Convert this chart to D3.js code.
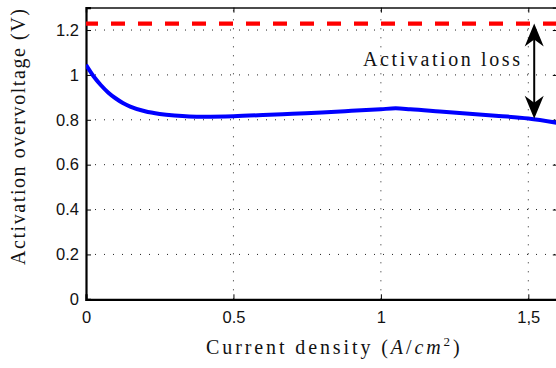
<!DOCTYPE html>
<html>
<head>
<meta charset="utf-8">
<script src="https://cdn.jsdelivr.net/npm/d3@7"></script>
<style>
  html, body { margin: 0; padding: 0; background: #fff; }
  svg { display: block; }
</style>
</head>
<body>
<svg id="chart" width="556" height="368"></svg>
<script>
// Activation overvoltage versus current density
const currentDensity = [0, 0.025, 0.05, 0.075, 0.1, 0.125, 0.15, 0.2, 0.25, 0.3, 0.35, 0.4, 0.5, 0.6, 0.7, 0.8, 0.9, 1.0, 1.05, 1.1, 1.2, 1.3, 1.4, 1.5, 1.6];
const overvoltage    = [1.045, 0.995, 0.955, 0.922, 0.896, 0.875, 0.859, 0.838, 0.826, 0.819, 0.815, 0.814, 0.816, 0.821, 0.827, 0.833, 0.840, 0.847, 0.851, 0.847, 0.837, 0.827, 0.817, 0.806, 0.786];
const reversibleVoltage = 1.229;
const arrowAt = 1.52;            // current density where the loss arrow is drawn
const arrowBottom = 0.805;       // overvoltage at the arrow position

const xTicks = [0, 0.5, 1, 1.5];
const xTickLabels = ["0", "0.5", "1", "1,5"];
const yTicks = [0, 0.2, 0.4, 0.6, 0.8, 1.0, 1.2];
const yTickLabels = ["0", "0.2", "0.4", "0.6", "0.8", "1", "1.2"];

const svg = d3.select("#chart");
const plotLeft = 86, plotRight = 557.8, plotTop = 7.6, plotBottom = 299.3;

const x = d3.scaleLinear().domain([0, 1.6]).range([plotLeft, plotRight]);
const y = d3.scaleLinear().domain([0, 1.3]).range([plotBottom, plotTop]);

const serif = "'Liberation Serif', 'DejaVu Serif', serif";
const sans = "'Liberation Sans', Arial, sans-serif";

// dotted grid
const grid = svg.append("g").attr("stroke", "#222").attr("stroke-width", 1).attr("stroke-dasharray", "1,8");
grid.selectAll(".gx").data(xTicks.slice(1)).join("line")
  .attr("x1", d => x(d)).attr("x2", d => x(d)).attr("y1", plotBottom).attr("y2", plotTop);
grid.selectAll(".gy").data(yTicks.slice(1)).join("line")
  .attr("y1", d => y(d)).attr("y2", d => y(d)).attr("x1", plotLeft).attr("x2", plotRight);

// axes with inward ticks
const xAxis = d3.axisBottom(x).tickValues(xTicks).tickSize(-5).tickPadding(12)
  .tickFormat((d, i) => xTickLabels[i]);
const gx = svg.append("g").attr("transform", `translate(0,${plotBottom})`).call(xAxis);
gx.select(".domain").attr("stroke-width", 2.2).attr("stroke", "#000");
gx.selectAll(".tick line").attr("stroke", "#000");
gx.selectAll(".tick text").attr("font-family", sans).attr("font-size", 16.5).attr("fill", "#111");

const xTop = d3.axisTop(x).tickValues(xTicks).tickSize(-5).tickFormat("");
const gt = svg.append("g").attr("transform", `translate(0,${plotTop})`).call(xTop);
gt.select(".domain").attr("stroke-width", 1.5).attr("stroke", "#111");

const yAxis = d3.axisLeft(y).tickValues(yTicks).tickSize(-5).tickPadding(7)
  .tickFormat((d, i) => yTickLabels[i]);
const gy = svg.append("g").attr("transform", `translate(${plotLeft},0)`).call(yAxis);
gy.select(".domain").attr("stroke-width", 2.2).attr("stroke", "#000");
gy.selectAll(".tick line").attr("stroke", "#000");
gy.selectAll(".tick text").attr("font-family", sans).attr("font-size", 16.5).attr("fill", "#111");

const yRight = d3.axisRight(y).tickValues(yTicks).tickSize(-5).tickFormat("");
svg.append("g").attr("transform", `translate(${plotRight},0)`).call(yRight);

// clip region for the plotted data
svg.append("clipPath").attr("id", "plotArea")
  .append("rect").attr("x", plotLeft).attr("y", plotTop)
  .attr("width", plotRight - plotLeft).attr("height", plotBottom - plotTop);

// reversible voltage (dashed red)
svg.append("line")
  .attr("clip-path", "url(#plotArea)")
  .attr("x1", x(0)).attr("x2", x(1.6))
  .attr("y1", y(reversibleVoltage)).attr("y2", y(reversibleVoltage))
  .attr("stroke", "#ff0000").attr("stroke-width", 4.2)
  .attr("stroke-dasharray", "14,13").attr("stroke-dashoffset", 2);

// overvoltage curve
const line = d3.line().x((d, i) => x(currentDensity[i])).y(d => y(d)).curve(d3.curveMonotoneX);
svg.append("path")
  .attr("clip-path", "url(#plotArea)")
  .attr("d", line(overvoltage))
  .attr("fill", "none").attr("stroke", "#0000ff").attr("stroke-width", 4);

// double-headed arrow marking the activation loss
const ax = x(arrowAt);
const yTip1 = y(reversibleVoltage), yTip2 = y(arrowBottom);
svg.append("line")
  .attr("x1", ax).attr("x2", ax).attr("y1", yTip1 + 12).attr("y2", yTip2 - 12)
  .attr("stroke", "#000").attr("stroke-width", 2);
const head = (tipY, dir) => {
  const L = 23, W = 9.5, N = 16;
  return `M${ax},${tipY} L${ax + W},${tipY + dir * L} L${ax},${tipY + dir * N} L${ax - W},${tipY + dir * L} Z`;
};
svg.append("path").attr("d", head(yTip1, 1)).attr("fill", "#000");
svg.append("path").attr("d", head(yTip2, -1)).attr("fill", "#000");

// annotation
svg.append("text")
  .attr("x", 363).attr("y", 66)
  .attr("font-family", serif).attr("font-size", 20).attr("fill", "#111")
  .attr("textLength", 157).attr("lengthAdjust", "spacing")
  .text("Activation loss");

// axis titles
const xt = svg.append("text")
  .attr("x", 206).attr("y", 354)
  .attr("font-family", serif).attr("font-size", 20).attr("fill", "#111")
  .attr("letter-spacing", 2.9);
xt.append("tspan").text("Current density (");
xt.append("tspan").attr("font-style", "italic").text("A");
xt.append("tspan").text("/");
xt.append("tspan").attr("font-style", "italic").text("cm");
xt.append("tspan").attr("font-size", 13).attr("dy", -8).text("2");
xt.append("tspan").attr("dy", 8).text(")");

svg.append("text")
  .attr("transform", "translate(25,137) rotate(-90)")
  .attr("text-anchor", "middle")
  .attr("font-family", serif).attr("font-size", 20).attr("fill", "#111")
  .attr("textLength", 256).attr("lengthAdjust", "spacing")
  .text("Activation overvoltage (V)");
</script>
</body>
</html>
